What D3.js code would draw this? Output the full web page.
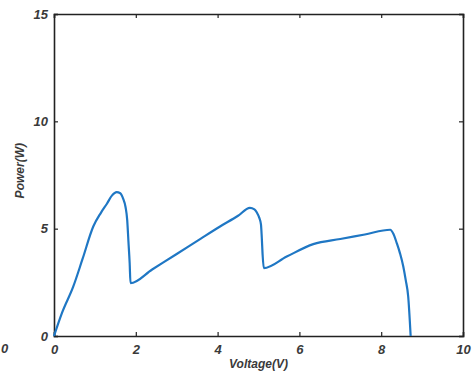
<!DOCTYPE html>
<html lang="en">
<head>
<meta charset="UTF-8">
<title>Power vs Voltage</title>
<style>
    body { margin: 0; background: #fff; }
    svg { display: block; font-family: "Liberation Sans", Arial, sans-serif; }
    .tick-label { font-size: 13px; font-style: italic; font-weight: bold; fill: #3a3a3a; }
    .axis-title { font-size: 12px; font-style: italic; font-weight: bold; fill: #3a3a3a; }
</style>
</head>
<body>
<div id="chart"></div>
<script src="https://d3js.org/d3.v7.min.js"></script>
<script>
// P-V curve
const voltage = [0, 0.2, 0.47, 0.7, 0.96, 1.15, 1.29, 1.42, 1.53, 1.62, 1.69, 1.75, 1.79, 1.82, 1.85, 1.87,
    2.4, 3.0, 3.6, 4.06, 4.5, 4.79, 4.9, 4.96, 5.02, 5.06, 5.08, 5.1, 5.13,
    5.69, 6.34, 7.0, 7.6, 8.22, 8.3, 8.38, 8.46, 8.54, 8.6, 8.66, 8.72];
const power = [0, 1.1, 2.3, 3.6, 5.1, 5.75, 6.15, 6.55, 6.7, 6.65, 6.4, 6.0, 5.4, 4.4, 3.4, 2.46,
    3.1, 3.82, 4.55, 5.1, 5.6, 5.97, 5.9, 5.75, 5.5, 5.2, 4.6, 3.8, 3.16,
    3.7, 4.28, 4.52, 4.73, 4.95, 4.75, 4.33, 3.85, 3.24, 2.6, 1.84, 0];
const xTicks = [0, 2, 4, 6, 8, 10];
const yTicks = [0, 5, 10, 15];

const width = 472, height = 378;
const margin = { top: 14, right: 9, bottom: 42, left: 54 };

const svg = d3.select("#chart").append("svg")
    .attr("width", width)
    .attr("height", height);

const x = d3.scaleLinear().domain([0, 10]).range([margin.left, width - margin.right]);
const y = d3.scaleLinear().domain([0, 15]).range([height - margin.bottom, margin.top]);

const tickLen = 4;

// axes with inward ticks, mirrored on top/right
svg.append("g")
    .attr("transform", `translate(0,${y(0)})`)
    .call(d3.axisBottom(x).tickValues(xTicks).tickSize(-tickLen).tickPadding(9).tickFormat(d3.format("d")));
svg.append("g")
    .attr("transform", `translate(0,${y(15)})`)
    .call(d3.axisTop(x).tickValues(xTicks).tickSize(-tickLen).tickFormat(""));
svg.append("g")
    .attr("transform", `translate(${x(0)},0)`)
    .call(d3.axisLeft(y).tickValues(yTicks).tickSize(-tickLen).tickPadding(6).tickFormat(d3.format("d")));
svg.append("g")
    .attr("transform", `translate(${x(10)},0)`)
    .call(d3.axisRight(y).tickValues(yTicks).tickSize(-tickLen).tickFormat(""));

svg.selectAll(".domain").attr("stroke", "#222").attr("stroke-width", 1.6);
svg.selectAll(".tick line").attr("stroke", "#222").attr("stroke-width", 1.2);
svg.selectAll(".tick text").attr("class", "tick-label");

// the curve
const line = d3.line()
    .x((d, i) => x(voltage[i]))
    .y(d => y(d))
    .curve(d3.curveMonotoneX);

svg.append("path")
    .datum(power)
    .attr("d", line)
    .attr("fill", "none")
    .attr("stroke", "#1f77c4")
    .attr("stroke-width", 2.2)
    .attr("stroke-linejoin", "round");

// titles
svg.append("text")
    .attr("class", "axis-title")
    .attr("x", x(5))
    .attr("y", 368)
    .attr("text-anchor", "middle")
    .text("Voltage(V)");

svg.append("text")
    .attr("class", "axis-title")
    .attr("transform", `translate(24,${y(7.7)}) rotate(-90)`)
    .attr("text-anchor", "middle")
    .text("Power(W)");

// leftover label at the left edge of the scan
svg.append("text")
    .attr("class", "tick-label")
    .attr("x", 1)
    .attr("y", 353)
    .text("0");
</script>
</body>
</html>
